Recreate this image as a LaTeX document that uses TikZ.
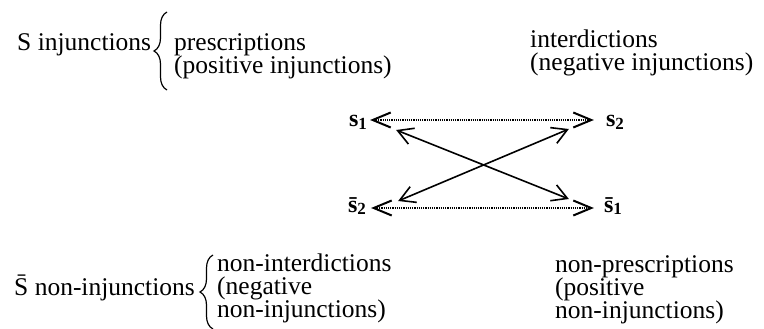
\documentclass[tikz,border=0pt]{standalone}
\usepackage{fontspec}
\setmainfont{Liberation Serif}
\usetikzlibrary{arrows.meta,decorations.pathreplacing}

\newcommand{\sterm}[2]{#1\raisebox{-2.5pt}{\fontsize{17}{17}\selectfont #2}}
\newcommand{\lines}[1]{\vtop{\lineskiplimit=-10pt\halign{##\hfil\cr#1\crcr}}}

\begin{document}
\begin{tikzpicture}
 [x=1pt, y=-1pt,
  every node/.style={inner sep=0pt},
  text node/.style={anchor=base west, font=\fontsize{25.5}{23}\selectfont},
  term node/.style={anchor=base, font=\fontsize{24}{24}\bfseries\selectfont},
  curly/.style={decorate, decoration={brace, amplitude=13pt}, line width=1.2pt},
  contrary/.style={densely dotted, line width=1.2pt,
    {Straight Barb[length=18pt, width=15pt, line width=2pt]}-{Straight Barb[length=18pt, width=15pt, line width=2pt]}},
  contradict/.style={line width=1.6pt,
    {Straight Barb[length=15pt, width=17pt]}-{Straight Barb[length=15pt, width=17pt]}}]

\useasboundingbox (0,0) rectangle (764,329);

% the two groups of modalities
\node[text node] (inj) at (17,51) {S injunctions};
\node[text node] (pres) at (174,51) {\lines{prescriptions\cr(positive injunctions)}};
\node[text node] (inter) at (530,48) {\lines{interdictions\cr(negative injunctions)}};

\node[text node] (noninj) at (14,295) {\=S non-injunctions};
\node[text node] (nonint) at (217,271) {\lines{non-interdictions\cr(negative\cr non-injunctions)}};
\node[text node] (nonpres) at (555,272) {\lines{non-prescriptions\cr(positive\cr non-injunctions)}};

\draw[curly] (167,90) -- (167,12);
\draw[curly] (213,329) -- (213,255);

% the square
\node[term node] (s1) at (358,127) {\sterm{s}{1}};
\node[term node] (s2) at (615,127) {\sterm{s}{2}};
\node[term node] (s2b) at (357,212) {\sterm{\=s}{2}};
\node[term node] (s1b) at (613,212) {\sterm{\=s}{1}};

\draw[contrary] ([shift={(3,-7)}]s1.base east) -- ([shift={(-12,-7)}]s2.base west);
\draw[contrary] ([shift={(5,-4)}]s2b.base east) -- ([shift={(-10,-4)}]s1b.base west);
\draw[contradict] ([shift={(29,3)}]s1.base east) -- ([shift={(-35,-13)}]s1b.base west);
\draw[contradict] ([shift={(32,-11)}]s2b.base east) -- ([shift={(-37,2)}]s2.base west);

\end{tikzpicture}
\end{document}
